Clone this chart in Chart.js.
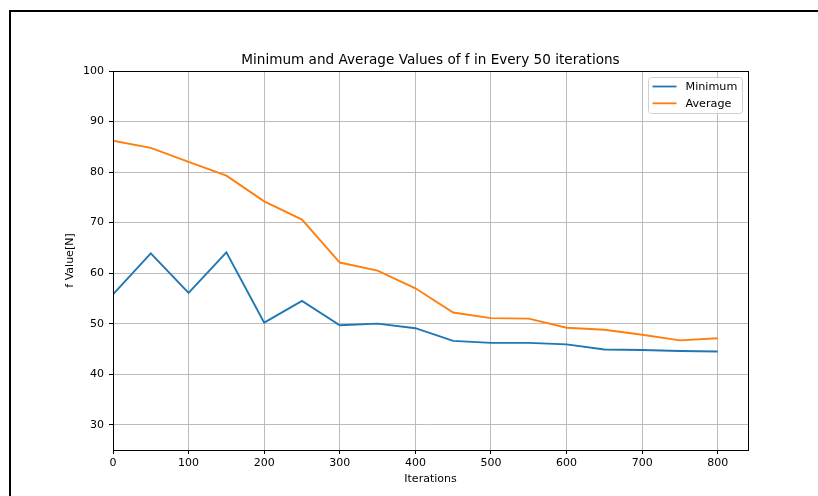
<!DOCTYPE html>
<html>
<head>
<meta charset="utf-8">
<script src="https://cdn.jsdelivr.net/npm/chart.js@4/dist/chart.umd.min.js"></script>
<style>
  html, body { margin: 0; padding: 0; background: #fff; width: 818px; height: 496px; overflow: hidden; }
  #frame { position: absolute; left: 9px; top: 10px; width: 900px; height: 600px;
           border-top: 2px solid #000; border-left: 2px solid #000; }
  #wrap { position: absolute; left: 0; top: 0; width: 818px; height: 496px; }
</style>
</head>
<body>
<div id="frame"></div>
<div id="wrap"><canvas id="c" width="818" height="496"></canvas></div>
<script>
const chartTitle = "Minimum and Average Values of f in Every 50 iterations";
const xLabel = "Iterations";
const yLabel = "f Value[N]";
const seriesNames = ["Minimum", "Average"];
const iterations = [0, 50, 100, 150, 200, 250, 300, 350, 400, 450, 500, 550, 600, 650, 700, 750, 800];
const minimumValues = [55.8, 63.9, 56.1, 64.1, 50.2, 54.5, 49.7, 50.0, 49.1, 46.6, 46.2, 46.2, 45.9, 44.9, 44.8, 44.6, 44.5];
const averageValues = [86.2, 84.8, 82.0, 79.3, 74.2, 70.6, 62.1, 60.5, 57.0, 52.2, 51.1, 51.0, 49.2, 48.8, 47.8, 46.7, 47.1];
const xTickValues = [0, 100, 200, 300, 400, 500, 600, 700, 800];
const yTickValues = [30, 40, 50, 60, 70, 80, 90, 100];

const FONT = "'DejaVu Sans', 'Liberation Sans', sans-serif";
Chart.defaults.font.family = FONT;
Chart.defaults.color = '#000';

const toPoints = (vals) => iterations.map((x, i) => ({ x: x, y: vals[i] }));

const framePlugin = {
  id: 'framePlugin',
  afterDraw(chart) {
    const { ctx, chartArea: a } = chart;
    ctx.save();
    ctx.strokeStyle = '#000';
    ctx.lineWidth = 1;
    const l = Math.round(a.left) + 0.5, r = Math.round(a.right) + 0.5;
    const t = Math.round(a.top) + 0.5, b = Math.round(a.bottom) + 0.5;
    ctx.strokeRect(l, t, r - l, b - t);
    // title
    ctx.fillStyle = '#000';
    ctx.font = "13.6px " + FONT;
    ctx.textAlign = 'center';
    ctx.textBaseline = 'middle';
    ctx.fillText(chartTitle, (a.left + a.right) / 2, 60.5);
    // legend
    const bx = a.right - 99.5, by = a.top + 6.5, bw = 94, bh = 36, rad = 3;
    ctx.beginPath();
    ctx.moveTo(bx + rad, by);
    ctx.lineTo(bx + bw - rad, by);
    ctx.arcTo(bx + bw, by, bx + bw, by + rad, rad);
    ctx.lineTo(bx + bw, by + bh - rad);
    ctx.arcTo(bx + bw, by + bh, bx + bw - rad, by + bh, rad);
    ctx.lineTo(bx + rad, by + bh);
    ctx.arcTo(bx, by + bh, bx, by + bh - rad, rad);
    ctx.lineTo(bx, by + rad);
    ctx.arcTo(bx, by, bx + rad, by, rad);
    ctx.closePath();
    ctx.fillStyle = 'rgba(255,255,255,0.8)';
    ctx.fill();
    ctx.strokeStyle = '#d0d0d0';
    ctx.stroke();
    ctx.font = "11.2px " + FONT;
    ctx.textAlign = 'left';
    ctx.textBaseline = 'middle';
    chart.data.datasets.forEach((ds, i) => {
      const yy = by + 9 + i * 16.8;
      ctx.strokeStyle = ds.borderColor;
      ctx.lineWidth = 1.8;
      ctx.beginPath();
      ctx.moveTo(bx + 4, yy);
      ctx.lineTo(bx + 28, yy);
      ctx.stroke();
      ctx.fillStyle = '#000';
      ctx.fillText(ds.label, bx + 37, yy + 0.5);
    });
    ctx.restore();
  }
};

new Chart(document.getElementById('c'), {
  type: 'line',
  data: {
    datasets: [
      { label: seriesNames[0], data: toPoints(minimumValues), borderColor: '#1f77b4', backgroundColor: '#1f77b4',
        borderWidth: 1.9, pointRadius: 0, tension: 0, fill: false },
      { label: seriesNames[1], data: toPoints(averageValues), borderColor: '#ff7f0e', backgroundColor: '#ff7f0e',
        borderWidth: 1.9, pointRadius: 0, tension: 0, fill: false }
    ]
  },
  options: {
    responsive: false,
    animation: false,
    devicePixelRatio: 1,
    layout: { padding: { top: 71, left: 55, right: 70, bottom: 0 } },
    plugins: { legend: { display: false }, title: { display: false }, tooltip: { enabled: false } },
    scales: {
      x: {
        type: 'linear', min: 0, max: 840,
        afterBuildTicks: (s) => { s.ticks = xTickValues.map(v => ({ value: v })); },
        afterFit: (s) => { s.height = 46; },
        grid: { color: '#bcbcbc', lineWidth: 1, tickColor: '#000', tickLength: 4, drawTicks: true },
        border: { display: false },
        ticks: { font: { size: 11 }, padding: 3, maxRotation: 0, autoSkip: false },
        title: { display: true, text: xLabel, font: { size: 11 }, padding: { top: 0, bottom: 10 } }
      },
      y: {
        type: 'linear', min: 25, max: 100,
        afterBuildTicks: (s) => { s.ticks = yTickValues.map(v => ({ value: v })); },
        afterFit: (s) => { s.width = 58; },
        grid: { color: '#bcbcbc', lineWidth: 1, tickColor: '#000', tickLength: 4, drawTicks: true },
        border: { display: false },
        ticks: { font: { size: 11 }, padding: 5, autoSkip: false },
        title: { display: true, text: yLabel, font: { size: 11 }, padding: { top: 9, bottom: 0 } }
      }
    }
  },
  plugins: [framePlugin]
});
</script>
</body>
</html>
